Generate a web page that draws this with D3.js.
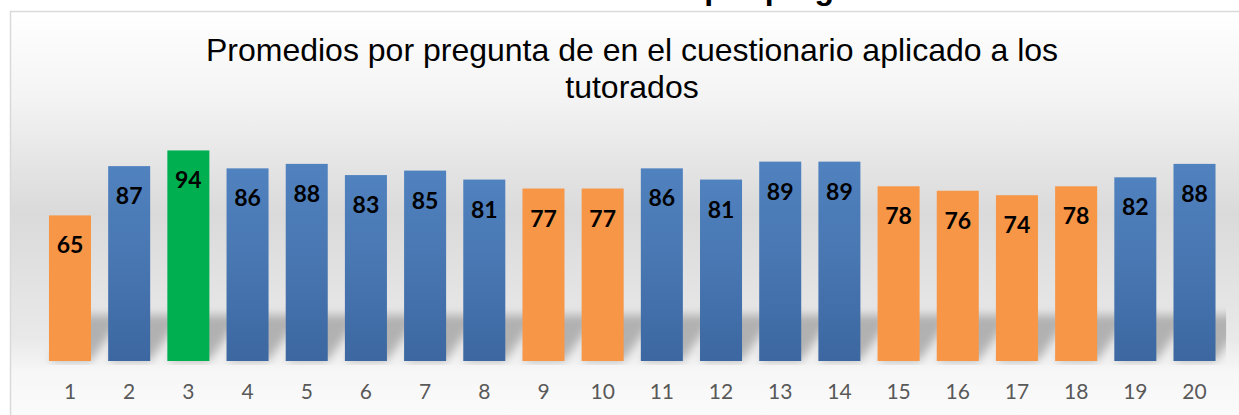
<!DOCTYPE html>
<html>
<head>
<meta charset="utf-8">
<script src="https://cdn.jsdelivr.net/npm/d3@7"></script>
<style>
  html, body { margin: 0; padding: 0; background: #ffffff; overflow: hidden; }
  svg { display: block; }
</style>
</head>
<body>
<div class="container"></div>
<script>
var preguntas = ['1','2','3','4','5','6','7','8','9','10','11','12','13','14','15','16','17','18','19','20'];
var promedios = [65, 87, 94, 86, 88, 83, 85, 81, 77, 77, 86, 81, 89, 89, 78, 76, 74, 78, 82, 88];
var titulo = ['Promedios por pregunta de en el cuestionario aplicado a los', 'tutorados'];
var tituloDoc = 'Promedios por pregunta';

var w = 1239;
var h = 415;

var svg = d3.select('.container')
  .append('svg')
  .attr('width', w)
  .attr('height', h);

var defs = svg.append('defs');

/* background of the chart area */
var bg = defs.append('linearGradient')
  .attr('id', 'bg')
  .attr('x1', 0).attr('y1', 0).attr('x2', 0).attr('y2', 1);
bg.append('stop').attr('offset', '0%').attr('stop-color', '#ffffff');
bg.append('stop').attr('offset', '20%').attr('stop-color', '#f4f4f4');
bg.append('stop').attr('offset', '48%').attr('stop-color', '#dadada');
bg.append('stop').attr('offset', '78%').attr('stop-color', '#e9e9e9');
bg.append('stop').attr('offset', '86%').attr('stop-color', '#f7f7f7');
bg.append('stop').attr('offset', '100%').attr('stop-color', '#fcfcfc');

var blue = defs.append('linearGradient')
  .attr('id', 'blue')
  .attr('x1', 0).attr('y1', 0).attr('x2', 0).attr('y2', 1);
blue.append('stop').attr('offset', '0%').attr('stop-color', '#5082bf');
blue.append('stop').attr('offset', '50%').attr('stop-color', '#4876b1');
blue.append('stop').attr('offset', '100%').attr('stop-color', '#3c67a1');

var blur = defs.append('filter')
  .attr('id', 'blur')
  .attr('x', '-50%').attr('y', '-50%').attr('width', '200%').attr('height', '200%');
blur.append('feGaussianBlur').attr('stdDeviation', 5);

// bold document title cut off at the top
svg.append('text')
  .attr('x', 530)
  .attr('y', -1.5)
  .attr('font-family', 'Liberation Sans, Arial, sans-serif')
  .attr('font-weight', 'bold')
  .attr('font-size', '32px')
  .attr('fill', '#000')
  .text(tituloDoc);

// chart area
svg.append('rect')
  .attr('x', 10.5)
  .attr('y', 11.5)
  .attr('width', 1260)
  .attr('height', 420)
  .attr('fill', 'url(#bg)')
  .attr('stroke', '#d9d9d9')
  .attr('stroke-width', 1.5);

/* title */
svg.append('text')
  .attr('x', 632)
  .attr('y', 61)
  .attr('text-anchor', 'middle')
  .attr('font-family', 'Liberation Sans, Arial, sans-serif')
  .attr('font-size', '32px')
  .attr('fill', '#000')
  .selectAll('tspan')
  .data(titulo)
  .enter()
  .append('tspan')
  .attr('x', 632)
  .attr('dy', function(d, i) { return i === 0 ? 0 : 37; })
  .text(function(d) { return d; });

/* scales */
var xScale = d3.scaleBand()
  .domain(preguntas)
  .range([40.4, 1224.1])
  .paddingInner(0.29)
  .paddingOuter(0.145);

var yScale = d3.scaleLinear()
  .domain([0, 100])
  .range([361, 137]);

var maxVal = d3.max(promedios);

function colorOf(v) {
  if (v === maxVal) return '#00b050';
  if (v < 80) return '#f79646';
  return 'url(#blue)';
}

svg.append('clipPath')
  .attr('id', 'plot')
  .append('rect')
  .attr('x', 40.4)
  .attr('y', 120)
  .attr('width', 1224.1 - 40.4 + 2)
  .attr('height', 245);

/* shadows */
svg.append('g')
  .attr('clip-path', 'url(#plot)')
  .append('g')
  .attr('filter', 'url(#blur)')
  .selectAll('path')
  .data(promedios)
  .enter()
  .append('path')
  .attr('d', function(d, i) {
    var x0 = xScale(preguntas[i]);
    var x1 = x0 + xScale.bandwidth();
    var y0 = yScale(0);
    var y1 = y0 - 46;
    return 'M' + x0 + ',' + y0 + 'L' + x1 + ',' + y0 + 'L' + (x1 + 32) + ',' + y1 + 'L' + (x0 + 32) + ',' + y1 + 'Z';
  })
  .attr('fill', '#8c8c8c')
  .attr('opacity', 0.6);

var group = svg.selectAll('g.bar')
  .data(promedios)
  .enter()
  .append('g')
  .attr('class', 'bar');

group.append('rect')
  .attr('x', function(d, i) { return xScale(preguntas[i]); })
  .attr('y', function(d) { return yScale(d); })
  .attr('width', xScale.bandwidth())
  .attr('height', function(d) { return yScale(0) - yScale(d); })
  .attr('fill', function(d) { return colorOf(d); });

group.append('text')
  .attr('x', function(d, i) { return xScale(preguntas[i]) + xScale.bandwidth() / 2; })
  .attr('y', function(d) { return yScale(d) + 38; })
  .attr('text-anchor', 'middle')
  .attr('font-family', 'Lato, "Open Sans", sans-serif')
  .attr('font-weight', 'bold')
  .attr('font-size', '23px')
  .attr('fill', '#000')
  .text(function(d) { return d; });

/* x axis */
var xAxis = d3.axisBottom()
  .scale(xScale)
  .tickSize(0)
  .tickPadding(0);

var ax = svg.append('g')
  .attr('transform', 'translate(0,399)')
  .call(xAxis);

ax.select('.domain').remove();
ax.selectAll('text')
  .attr('dy', 0)
  .attr('y', 0)
  .style('font-family', 'Lato, "Open Sans", sans-serif')
  .style('font-size', '21px')
  .attr('fill', '#595959');
</script>
</body>
</html>
